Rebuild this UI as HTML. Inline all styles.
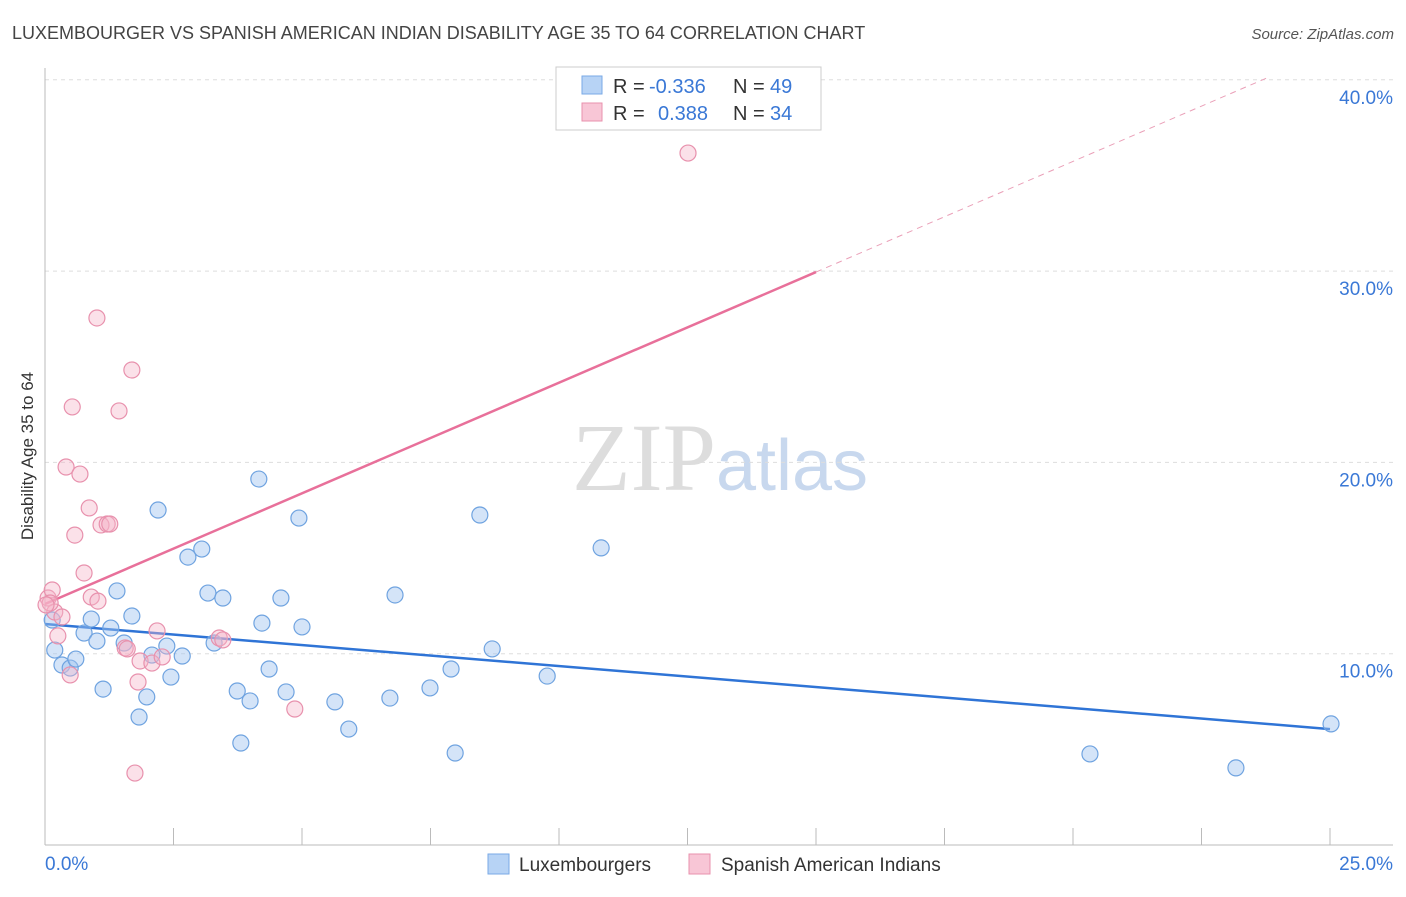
<!DOCTYPE html>
<html><head><meta charset="utf-8"><style>
body{margin:0;background:#fff;font-family:"Liberation Sans",sans-serif}
svg text{font-family:"Liberation Sans",sans-serif}
</style></head><body>
<svg id="chart" width="1406" height="892" xmlns="http://www.w3.org/2000/svg">
<text x="12" y="39" font-size="18" fill="#444">LUXEMBOURGER VS SPANISH AMERICAN INDIAN DISABILITY AGE 35 TO 64 CORRELATION CHART</text>
<text x="1394" y="39" font-size="15" fill="#555" text-anchor="end" font-style="italic">Source: ZipAtlas.com</text>
<text x="720" y="490" font-size="96" text-anchor="middle"><tspan fill="#ddd" font-family="Liberation Serif">ZIP</tspan><tspan fill="#c8d8ee" font-size="72">atlas</tspan></text>
<text transform="translate(33,456) rotate(-90)" font-size="17" fill="#333" text-anchor="middle">Disability Age 35 to 64</text>
<g id="grid"></g><g id="axes"></g><g id="trends"></g><g id="pts"></g>
<g>
<rect x="556" y="67" width="265" height="63" fill="#fff" stroke="#ccc"/>
<rect x="582" y="76" width="20" height="18" fill="#b7d3f5" stroke="#7aaae6"/>
<text y="93" font-size="20" fill="#333"><tspan x="613">R =</tspan><tspan x="649" fill="#3a78d6">-0.336</tspan><tspan x="733">N =</tspan><tspan x="770" fill="#3a78d6">49</tspan></text>
<rect x="582" y="103" width="20" height="18" fill="#f8c6d6" stroke="#e891ad"/>
<text y="120" font-size="20" fill="#333"><tspan x="613">R =</tspan><tspan x="658" fill="#3a78d6">0.388</tspan><tspan x="733">N =</tspan><tspan x="770" fill="#3a78d6">34</tspan></text>
</g>
<g>
<rect x="488" y="854" width="21" height="20" fill="#b7d3f5" stroke="#7aaae6"/>
<text x="519" y="871" font-size="19" fill="#333">Luxembourgers</text>
<rect x="689" y="854" width="21" height="20" fill="#f8c6d6" stroke="#e891ad"/>
<text x="721" y="871" font-size="19" fill="#333">Spanish American Indians</text>
</g>
</svg>
<script>
const blueX=[.14,.19,.33,.49,.60,.76,.90,1.01,1.13,1.28,1.40,1.54,1.69,1.83,1.98,2.08,2.20,2.37,2.45,2.67,2.78,3.05,3.17,3.29,3.46,3.74,3.81,3.99,4.16,4.22,4.36,4.59,4.69,4.94,5.00,5.64,5.91,6.71,6.81,7.49,7.90,7.98,8.46,8.70,9.77,10.82,20.33,23.17,25.02];
const blueY=[11.76,10.19,9.41,9.25,9.72,11.08,11.81,10.66,8.15,11.34,13.28,10.56,11.97,6.69,7.74,9.93,17.51,10.40,8.78,9.88,15.05,15.47,13.17,10.56,12.91,8.05,5.33,7.53,19.13,11.60,9.20,12.91,8.00,17.09,11.40,7.48,6.06,7.68,13.07,8.21,9.20,4.81,17.25,10.25,8.83,15.53,4.76,4.03,6.33];
const pinkX=[.06,.14,.19,.25,.33,.41,.49,.53,.58,.68,.76,.86,.90,1.01,1.03,1.09,1.21,1.26,1.44,1.56,1.60,1.69,1.75,1.81,1.85,2.08,2.18,2.28,3.39,3.46,4.86,12.51,.10,.02];
const pinkY=[12.91,13.33,12.18,10.93,11.92,19.76,8.89,22.90,16.20,19.39,14.22,17.62,12.96,27.55,12.75,16.73,16.78,16.78,22.69,10.30,10.25,24.83,3.76,8.52,9.62,9.51,11.19,9.83,10.82,10.72,7.11,36.17,12.65,12.55];
const yTicks=[10,20,30,40];
const yTickLabels=["10.0%","20.0%","30.0%","40.0%"];
const blueTrend=[11.55,6.06];
const pinkTrend=[12.6,29.95];
const pinkTrendEndX=15;
const X=v=>45+v/25*1285, Y=v=>845-v*19.13;
const NS="http://www.w3.org/2000/svg";
function mk(p,t,a){const e=document.createElementNS(NS,t);for(const k in a)e.setAttribute(k,a[k]);document.getElementById(p).appendChild(e);return e;}
yTicks.forEach((t,i)=>{
 const l=mk('grid','line',{x1:45,x2:1393,y1:Y(t),y2:Y(t),stroke:'#ddd','stroke-dasharray':'4,4'});
 
 
 const tx=mk('grid','text',{x:1393,y:Y(t)+24,'font-size':19,fill:'#3a78d6','text-anchor':'end'});
 tx.textContent=yTickLabels[i];
 
 
});
const ya=mk('axes','line',{x1:45,x2:45,y1:68,y2:845,stroke:'#bbb'});


const xa=mk('axes','line',{x1:45,x2:1393,y1:845,y2:845,stroke:'#bbb'});


for(let i=0;i<=10;i++){const t=mk('axes','line',{x1:X(i*2.5),x2:X(i*2.5),y1:828,y2:845,stroke:'#bbb'});
 
 }
const xMinLbl=mk('axes','text',{x:45,y:870,'font-size':19,fill:'#3a78d6'});xMinLbl.textContent='0.0%';


const xMaxLbl=mk('axes','text',{x:1393,y:870,'font-size':19,fill:'#3a78d6','text-anchor':'end'});xMaxLbl.textContent='25.0%';


const ps=(pinkTrend[1]-pinkTrend[0])/pinkTrendEndX;
const pd=mk('trends','line',{x1:X(pinkTrendEndX),y1:Y(pinkTrend[1]),x2:X(23.8),y2:Y(pinkTrend[0]+ps*23.8),stroke:'#eaa0b8','stroke-dasharray':'6,5','stroke-width':1});


const pt=mk('trends','line',{x1:X(0),y1:Y(pinkTrend[0]),x2:X(pinkTrendEndX),y2:Y(pinkTrend[1]),stroke:'#e8709a','stroke-width':2.5});


const bt=mk('trends','line',{x1:X(0),y1:Y(blueTrend[0]),x2:X(25),y2:Y(blueTrend[1]),stroke:'#2f74d6','stroke-width':2.5});


blueX.forEach((v,i)=>{const c=mk('pts','circle',{cx:X(v),cy:Y(blueY[i]),r:8,fill:'rgba(160,196,240,0.45)',stroke:'#6fa3e0','stroke-width':1.2});
 
 });
pinkX.forEach((v,i)=>{const c=mk('pts','circle',{cx:X(v),cy:Y(pinkY[i]),r:8,fill:'rgba(245,180,200,0.4)',stroke:'#e891ad','stroke-width':1.2});
 
 });
</script>
</body></html>
